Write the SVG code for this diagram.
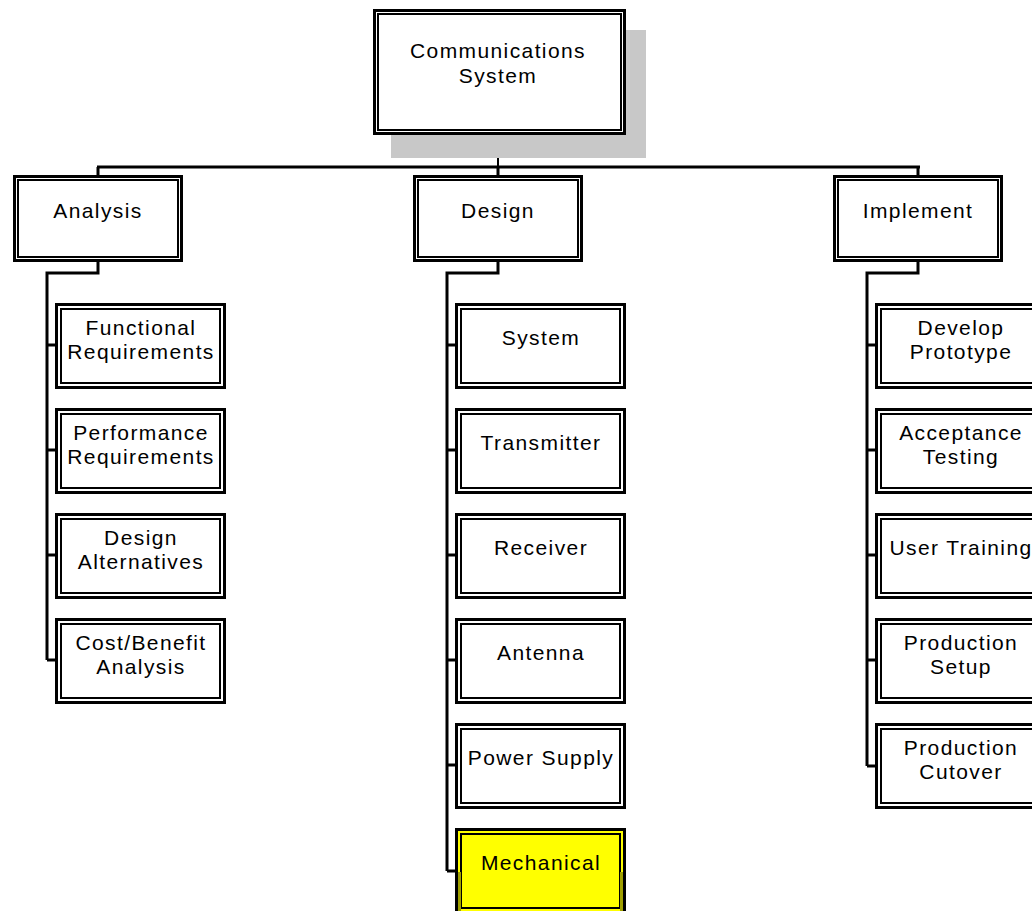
<svg xmlns="http://www.w3.org/2000/svg" width="1032" height="911" viewBox="0 0 1032 911">
<style>
.o{fill:#fff;stroke:#000;stroke-width:3}
.i{fill:none;stroke:#000;stroke-width:2}
.hl .o{fill:#ffff00}
.c{fill:none;stroke:#000;stroke-width:3}
text{font-family:"Liberation Sans",Arial,sans-serif;font-size:21px;letter-spacing:1.4px;fill:#000;text-anchor:middle}
</style>
<rect width="1032" height="911" fill="#fff"/>
<g id="connectors">
<line class="c" x1="498" y1="135" x2="498" y2="167" style="stroke-width:2"/>
<line class="c" x1="97" y1="167" x2="920" y2="167"/>
<line class="c" x1="98" y1="167" x2="98" y2="175"/>
<line class="c" x1="498" y1="167" x2="498" y2="175"/>
<line class="c" x1="918" y1="167" x2="918" y2="175"/>
<polyline class="c" points="98,262 98,273 47,273 47,660"/>
<polyline class="c" points="498,262 498,273 447,273 447,871"/>
<polyline class="c" points="918,262 918,273 867,273 867,766"/>
<line class="c" x1="47" y1="345" x2="56" y2="345"/>
<line class="c" x1="47" y1="450" x2="56" y2="450"/>
<line class="c" x1="47" y1="555" x2="56" y2="555"/>
<line class="c" x1="47" y1="660" x2="56" y2="660"/>
<line class="c" x1="447" y1="345" x2="456" y2="345"/>
<line class="c" x1="447" y1="450" x2="456" y2="450"/>
<line class="c" x1="447" y1="555" x2="456" y2="555"/>
<line class="c" x1="447" y1="660" x2="456" y2="660"/>
<line class="c" x1="447" y1="765" x2="456" y2="765"/>
<line class="c" x1="447" y1="871" x2="456" y2="871"/>
<line class="c" x1="867" y1="345" x2="876" y2="345"/>
<line class="c" x1="867" y1="450" x2="876" y2="450"/>
<line class="c" x1="867" y1="555" x2="876" y2="555"/>
<line class="c" x1="867" y1="660" x2="876" y2="660"/>
<line class="c" x1="867" y1="766" x2="876" y2="766"/>
</g>
<g id="root">
<rect x="391" y="30" width="255" height="128" fill="#c8c8c8"/>
<rect class="o" x="374.5" y="10.5" width="250" height="123"/>
<rect class="i" x="378" y="14" width="243" height="116"/>
<text x="498" y="58">Communications</text>
<text x="498" y="83">System</text>
</g>
<g id="analysis">
<rect class="o" x="14.5" y="176.5" width="167" height="84"/>
<rect class="i" x="18" y="180" width="160" height="77"/>
<text x="98" y="218">Analysis</text>
</g>
<g id="design">
<rect class="o" x="414.5" y="176.5" width="167" height="84"/>
<rect class="i" x="418" y="180" width="160" height="77"/>
<text x="498" y="218">Design</text>
</g>
<g id="implement">
<rect class="o" x="834.5" y="176.5" width="167" height="84"/>
<rect class="i" x="838" y="180" width="160" height="77"/>
<text x="918" y="218">Implement</text>
</g>
<g id="functional-requirements">
<rect class="o" x="56.5" y="304.5" width="168" height="83"/>
<rect class="i" x="61" y="309" width="159" height="74"/>
<text x="141" y="335">Functional</text>
<text x="141" y="359">Requirements</text>
</g>
<g id="performance-requirements">
<rect class="o" x="56.5" y="409.5" width="168" height="83"/>
<rect class="i" x="61" y="414" width="159" height="74"/>
<text x="141" y="440">Performance</text>
<text x="141" y="464">Requirements</text>
</g>
<g id="design-alternatives">
<rect class="o" x="56.5" y="514.5" width="168" height="83"/>
<rect class="i" x="61" y="519" width="159" height="74"/>
<text x="141" y="545">Design</text>
<text x="141" y="569">Alternatives</text>
</g>
<g id="cost-benefit-analysis">
<rect class="o" x="56.5" y="619.5" width="168" height="83"/>
<rect class="i" x="61" y="624" width="159" height="74"/>
<text x="141" y="650">Cost/Benefit</text>
<text x="141" y="674">Analysis</text>
</g>
<g id="system">
<rect class="o" x="456.5" y="304.5" width="168" height="83"/>
<rect class="i" x="461" y="309" width="159" height="74"/>
<text x="541" y="345">System</text>
</g>
<g id="transmitter">
<rect class="o" x="456.5" y="409.5" width="168" height="83"/>
<rect class="i" x="461" y="414" width="159" height="74"/>
<text x="541" y="450">Transmitter</text>
</g>
<g id="receiver">
<rect class="o" x="456.5" y="514.5" width="168" height="83"/>
<rect class="i" x="461" y="519" width="159" height="74"/>
<text x="541" y="555">Receiver</text>
</g>
<g id="antenna">
<rect class="o" x="456.5" y="619.5" width="168" height="83"/>
<rect class="i" x="461" y="624" width="159" height="74"/>
<text x="541" y="660">Antenna</text>
</g>
<g id="power-supply">
<rect class="o" x="456.5" y="724.5" width="168" height="83"/>
<rect class="i" x="461" y="729" width="159" height="74"/>
<text x="541" y="765">Power Supply</text>
</g>
<g id="mechanical" class="hl">
<rect class="o" x="456.5" y="829.5" width="168" height="83"/>
<rect class="i" x="461" y="834" width="159" height="74"/>
<rect x="458" y="872" width="3" height="39" fill="#a0a000"/>
<rect x="620" y="872" width="3" height="39" fill="#a0a000"/>
<text x="541" y="870">Mechanical</text>
</g>
<g id="develop-prototype">
<rect class="o" x="876.5" y="304.5" width="168" height="83"/>
<rect class="i" x="881" y="309" width="159" height="74"/>
<text x="961" y="335">Develop</text>
<text x="961" y="359">Prototype</text>
</g>
<g id="acceptance-testing">
<rect class="o" x="876.5" y="409.5" width="168" height="83"/>
<rect class="i" x="881" y="414" width="159" height="74"/>
<text x="961" y="440">Acceptance</text>
<text x="961" y="464">Testing</text>
</g>
<g id="user-training">
<rect class="o" x="876.5" y="514.5" width="168" height="83"/>
<rect class="i" x="881" y="519" width="159" height="74"/>
<text x="961" y="555">User Training</text>
</g>
<g id="production-setup">
<rect class="o" x="876.5" y="619.5" width="168" height="83"/>
<rect class="i" x="881" y="624" width="159" height="74"/>
<text x="961" y="650">Production</text>
<text x="961" y="674">Setup</text>
</g>
<g id="production-cutover">
<rect class="o" x="876.5" y="724.5" width="168" height="83"/>
<rect class="i" x="881" y="729" width="159" height="74"/>
<text x="961" y="755">Production</text>
<text x="961" y="779">Cutover</text>
</g>
</svg>
